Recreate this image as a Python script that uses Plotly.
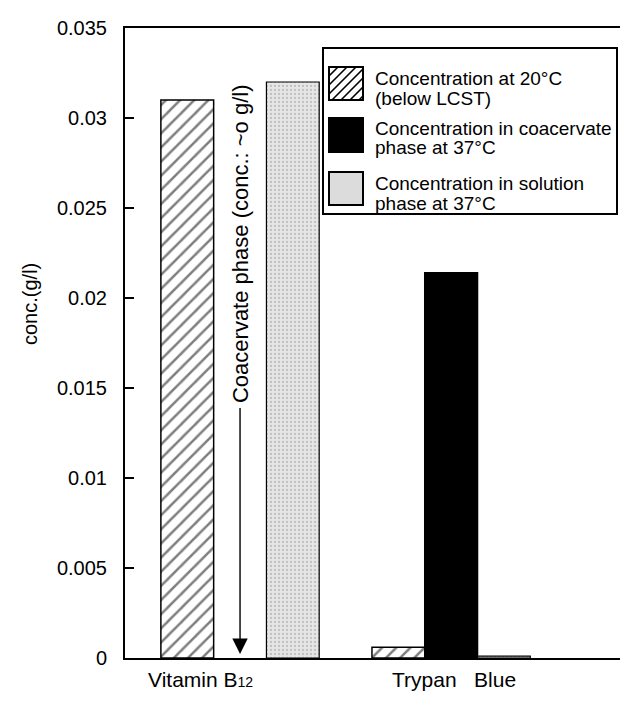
import plotly.graph_objects as go

# ---- data ----
categories = ["Vitamin B12", "Trypan Blue"]
x_pos = [0, 1]
conc_20C = [0.031, 0.0006]
conc_coacervate_37C = [None, 0.0214]
conc_solution_37C = [0.032, 0.0001]
legend_lines = [
    ["Concentration at 20°C", "(below LCST)"],
    ["Concentration in coacervate", "phase at 37°C"],
    ["Concentration in solution", "phase at 37°C"],
]
series_names = ["<br>".join(l) for l in legend_lines]
y_ticks = [0, 0.005, 0.01, 0.015, 0.02, 0.025, 0.03, 0.035]
y_ticklabels = ["0", "0.005", "0.01", "0.015", "0.02", "0.025", "0.03", "0.035"]

FONT = "Liberation Sans, Arial, Helvetica, sans-serif"
W, H = 620, 702
ML, MR, MT, MB = 125, 0, 28, 44
PW, PH = W - ML - MR, H - MT - MB


def px(xp):  # pixel -> paper x
    return (xp - ML) / PW


def py(yp):  # pixel -> paper y
    return (H - MB - yp) / PH


fig = go.Figure()
fig.add_trace(go.Bar(
    x=x_pos, y=conc_20C, name=series_names[0], showlegend=False,
    marker=dict(color="white", line=dict(color="black", width=1.5),
                pattern=dict(shape="/", fgcolor="black", bgcolor="white",
                             size=10, solidity=0.25)),
))
fig.add_trace(go.Bar(
    x=x_pos, y=conc_coacervate_37C, name=series_names[1], showlegend=False,
    marker=dict(color="black", line=dict(color="black", width=1.5)),
))
fig.add_trace(go.Bar(
    x=x_pos, y=conc_solution_37C, name=series_names[2], showlegend=False,
    marker=dict(color="#dcdcdc", line=dict(color="black", width=1.2),
                pattern=dict(shape=".", fgcolor="#9a9a9a", bgcolor="#e6e6e6",
                             size=4, solidity=0.25)),
))

fig.update_layout(
    width=W, height=H,
    margin=dict(l=ML, r=MR, t=MT, b=MB),
    paper_bgcolor="white", plot_bgcolor="white",
    barmode="group", bargap=0.25, bargroupgap=0,
    font=dict(family=FONT, color="black", size=19),
    showlegend=False,
    xaxis=dict(
        range=[-0.545, 1.80], showgrid=False, zeroline=False,
        showticklabels=False, ticks="",
        showline=True, linecolor="black", linewidth=2, mirror=True,
    ),
    yaxis=dict(
        range=[0, 0.035], tickvals=y_ticks, ticktext=y_ticklabels,
        ticks="inside", ticklen=9, tickwidth=1.5, tickcolor="black",
        showgrid=False, zeroline=False,
        showline=True, linecolor="black", linewidth=2, mirror=False,
        tickfont=dict(size=20), ticklabelstandoff=12,
    ),
)

# y-axis title
fig.add_annotation(x=px(17), y=py(304), xref="paper", yref="paper",
                   text="conc.(g/l)", textangle=-90, showarrow=False,
                   font=dict(size=20))

# category labels
fig.add_annotation(x=x_pos[0] - 0.185, y=0, xref="x", yref="paper",
                   yanchor="middle", yshift=-21, showarrow=False,
                   text="Vitamin B<span style='font-size:14px'>12</span>",
                   font=dict(size=21))
fig.add_annotation(x=x_pos[1] + 0.014, y=0, xref="x", yref="paper",
                   yanchor="middle", yshift=-21, showarrow=False,
                   text="Trypan&nbsp;&nbsp;&nbsp;Blue",
                   font=dict(size=21))

# coacervate phase arrow annotation (Vitamin B12 coacervate slot)
fig.add_annotation(x=x_pos[0], y=0, xref="x", yref="y",
                   ax=0, ay=-414, axref="pixel", ayref="pixel",
                   text="Coacervate phase (conc.: ~o g/l)", textangle=-90,
                   font=dict(size=22), showarrow=True, borderpad=4,
                   arrowhead=2, arrowsize=2.2, arrowwidth=1.4, arrowcolor="black",
                   standoff=4)

# ---- manual legend (large swatches as in the original) ----
shapes = []
shapes.append(dict(type="rect", xref="paper", yref="paper",
                   x0=px(323), x1=px(617), y0=py(214), y1=py(48),
                   line=dict(color="black", width=2), fillcolor="white",
                   layer="above"))
sw_x0, sw_x1 = 329, 363
sw_rows = [(67, 100), (118, 152), (172, 205)]
# hatched swatch
y0, y1 = sw_rows[0]
shapes.append(dict(type="rect", xref="paper", yref="paper",
                   x0=px(sw_x0), x1=px(sw_x1), y0=py(y1), y1=py(y0),
                   line=dict(color="black", width=2), fillcolor="white",
                   layer="above"))
step = 9
s = sw_x0 - (y1 - y0)
segs = []
while s < sw_x1:
    xa, ya = s, y1
    xb, yb = s + (y1 - y0), y0
    if xa < sw_x0:
        ya = y1 - (sw_x0 - xa)
        xa = sw_x0
    if xb > sw_x1:
        yb = y0 + (xb - sw_x1)
        xb = sw_x1
    if xa < xb:
        segs.append(f"M{px(xa)},{py(ya)} L{px(xb)},{py(yb)}")
    s += step
shapes.append(dict(type="path", xref="paper", yref="paper",
                   path=" ".join(segs), line=dict(color="black", width=1.6),
                   layer="above"))
# black swatch
y0, y1 = sw_rows[1]
shapes.append(dict(type="rect", xref="paper", yref="paper",
                   x0=px(sw_x0), x1=px(sw_x1), y0=py(y1), y1=py(y0),
                   line=dict(color="black", width=2), fillcolor="black",
                   layer="above"))
# gray swatch
y0, y1 = sw_rows[2]
shapes.append(dict(type="rect", xref="paper", yref="paper",
                   x0=px(sw_x0), x1=px(sw_x1), y0=py(y1), y1=py(y0),
                   line=dict(color="black", width=2), fillcolor="#dcdcdc",
                   layer="above"))
fig.update_layout(shapes=shapes)

text_rows = [(78, 98), (128, 147), (183, 203)]
for lines, ys in zip(legend_lines, text_rows):
    for t, yy in zip(lines, ys):
        fig.add_annotation(x=px(373), y=py(yy), xref="paper", yref="paper",
                           xanchor="left", yanchor="middle", showarrow=False,
                           text=t, font=dict(size=19))

fig.write_html("out.html")
